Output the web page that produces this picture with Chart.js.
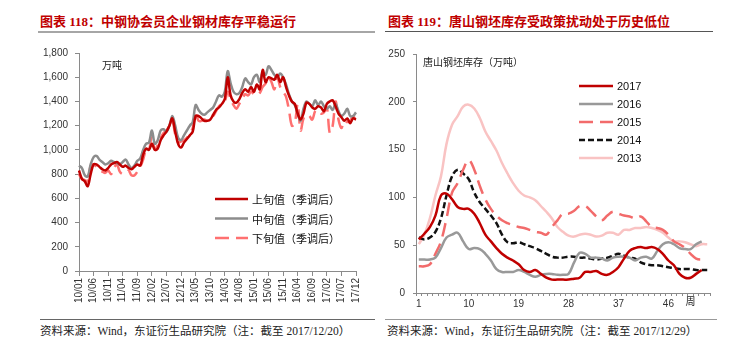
<!DOCTYPE html>
<html><head><meta charset="utf-8">
<script src="https://cdn.jsdelivr.net/npm/chart.js@4/dist/chart.umd.min.js"></script>
<style>
body{margin:0;width:751px;height:356px;background:#fff;position:relative;overflow:hidden;font-family:"Liberation Serif","Noto Sans CJK SC",serif;}
.title{position:absolute;top:11px;font-size:13px;font-weight:bold;color:#C00000;white-space:nowrap;font-family:"Liberation Serif","Noto Sans CJK SC",serif;}
.rule{position:absolute;}
.src{position:absolute;top:322px;font-size:11.5px;color:#222;white-space:nowrap;}
#w1{position:absolute;left:30px;top:40px;width:340px;height:275px;}
#w2{position:absolute;left:380px;top:40px;width:340px;height:275px;}
</style></head>
<body>
<div class="title" style="left:40px;">图表 118：中钢协会员企业钢材库存平稳运行</div>
<div class="title" style="left:388px;">图表 119：唐山钢坯库存受政策扰动处于历史低位</div>
<div class="rule" style="left:38px;top:31px;width:337px;height:2px;background:#a6a6a6;"></div>
<div class="rule" style="left:385px;top:31px;width:328px;height:1px;background:#555;"></div>
<div id="w1"><canvas id="c1"></canvas></div>
<div id="w2"><canvas id="c2"></canvas></div>
<div class="rule" style="left:40px;top:319px;width:335px;height:1px;background:#666;"></div>
<div class="rule" style="left:385px;top:319px;width:332px;height:1px;background:#999;"></div>
<div class="src" style="left:40px;">资料来源：Wind，东证衍生品研究院（注：截至 2017/12/20）</div>
<div class="src" style="left:387px;">资料来源：Wind，东证衍生品研究院（注：截至 2017/12/29）</div>
<script>
// ---------- Left chart data (monthly, 2010/01 - 2017/12) ----------
const monthLabels = [];
for (let y = 10; y <= 17; y++) for (let m = 1; m <= 12; m++) monthLabels.push(y + '/' + (m < 10 ? '0' + m : m));
const shangxun = [830,760,740,700,800,880,880,860,840,830,850,880,890,900,880,860,870,850,840,860,880,870,960,1010,
  1000,1050,1000,1010,1080,1120,1150,1200,1260,1150,1050,1020,1060,1090,1120,1150,1280,1280,1260,1240,1240,1250,1290,1330,
  1350,1380,1420,1600,1450,1400,1390,1420,1470,1500,1480,1520,1480,1540,1500,1660,1560,1600,1590,1580,1620,1560,1600,1520,
  1450,1400,1380,1300,1250,1300,1390,1380,1350,1340,1360,1350,1320,1380,1400,1410,1360,1300,1270,1240,1260,1220,1260,1250];
const zhongxun = [870,850,790,780,880,940,950,920,900,880,890,910,900,890,880,900,920,880,850,870,910,930,1000,1050,
  1060,1160,1050,1080,1160,1170,1150,1200,1280,1200,1100,1080,1120,1160,1200,1230,1370,1330,1300,1290,1310,1330,1350,1400,
  1450,1440,1480,1650,1550,1480,1460,1470,1520,1590,1560,1540,1600,1620,1560,1640,1620,1690,1660,1620,1600,1630,1600,1540,
  1460,1400,1370,1300,1240,1340,1400,1380,1360,1410,1370,1400,1360,1340,1360,1330,1380,1320,1280,1300,1340,1280,1280,1310];
const xiaxun = [800,760,750,740,870,880,860,830,820,810,830,800,850,880,820,800,810,830,790,790,820,860,920,1000,
  1000,1120,1000,1040,1100,1140,1160,1200,1240,1130,1060,1070,1080,1100,1140,1180,1300,1240,1240,1250,1240,1270,1280,1320,
  1360,1380,1400,1480,1420,1370,1340,1380,1420,1460,1450,1480,1460,1450,1470,1520,1550,1600,1560,1500,1600,1520,1480,1440,
  1330,1200,1220,1380,1160,1260,1290,1280,1250,1320,1330,1300,1310,1350,1140,1200,1400,1250,1180,1240,1230,1240,1280,1240];
const leftSeriesNames = ['上旬值（季调后）','中旬值（季调后）','下旬值（季调后）'];

// ---------- Right chart data (weekly) ----------
const weekLabels = [];
for (let w = 1; w <= 53; w++) weekLabels.push(String(w));
const y2017 = [56,62,69,81,102,104,98,90,88,88,83,73,61,54,47,41,37,34,30,24,22,24,20,16,14,14,14,14,15,16,22,22,23,20,19,22,27,36,44,47,48,47,48,46,41,34,29,20,16,16,20,24];
const y2016 = [35,35,35,37,47,58,61,63,54,46,47,46,41,34,25,22,22,22,24,22,19,17,19,20,20,19,19,20,32,42,41,37,37,36,34,37,38,38,37,34,37,38,36,44,51,53,51,47,46,46,51,54];
const y2015 = [28,28,30,41,54,78,105,115,129,139,129,112,98,88,81,76,73,71,69,68,66,64,63,61,69,76,83,83,86,91,91,86,80,76,81,85,83,81,80,78,80,75,69,68,66,61,54,51,47,41,36,35,35];
const y2014 = [58,56,58,64,78,102,122,129,125,119,105,95,88,81,73,61,53,52,53,51,49,47,44,41,38,37,37,38,38,37,37,36,35,36,37,39,41,39,37,36,32,30,29,29,28,27,26,25,25,25,24,24,24];
const y2013 = [51,61,78,102,122,156,176,185,195,197,193,183,169,159,149,136,125,115,107,102,100,97,91,85,78,69,64,60,59,61,62,61,59,60,63,63,61,66,66,68,68,69,68,66,63,58,54,54,53,51,49,51,51];
const rightSeriesNames = ['2017','2016','2015','2014','2013'];
const leftYTicks = {min:0, max:1800, step:200};
const rightYTicks = {min:0, max:250, step:50};

const tickFont = {family:'"Liberation Sans", Arial, sans-serif', size:10};
const axisColor = '#8a8a8a';

const inLegend = {
  id:'inLegend',
  afterDraw(chart, args, opts){
    const ctx = chart.ctx;
    ctx.save();
    chart.data.datasets.forEach((ds,i)=>{
      const y = opts.y + i*opts.gap;
      ctx.beginPath();
      ctx.strokeStyle = ds.borderColor;
      ctx.lineWidth = ds.borderWidth;
      ctx.setLineDash(ds.borderDash || []);
      ctx.moveTo(opts.x, y); ctx.lineTo(opts.x + opts.len, y); ctx.stroke();
      ctx.setLineDash([]);
      ctx.fillStyle = '#111';
      ctx.font = opts.font;
      ctx.textBaseline = 'middle';
      ctx.textAlign = 'left';
      ctx.fillText(ds.label, opts.x + opts.len + 4, y + 1);
    });
    if (opts.unit) {
      ctx.font = opts.unitFont;
      ctx.fillStyle = '#222';
      ctx.fillText(opts.unit, opts.ux, opts.uy);
    }
    if (opts.zhou) {
      const xs = chart.scales.x;
      ctx.font = '10px "Noto Sans CJK SC"';
      ctx.fillStyle = '#222';
      ctx.textAlign = 'center';
      ctx.fillText('周', xs.getPixelForValue(49), chart.chartArea.bottom + 8);
    }
    ctx.restore();
  }
};

new Chart(document.getElementById('c1'), {
  type:'line',
  data:{
    labels: monthLabels,
    datasets:[
      {label:leftSeriesNames[0], data:shangxun, borderColor:'#C00000', borderWidth:2.5, pointRadius:0, tension:0.35},
      {label:leftSeriesNames[1], data:zhongxun, borderColor:'#8c8c8c', borderWidth:2.5, pointRadius:0, tension:0.35},
      {label:leftSeriesNames[2], data:xiaxun, borderColor:'#ff7070', borderWidth:2.5, borderDash:[14,7], pointRadius:0, tension:0.35}
    ]
  },
  options:{
    responsive:true, maintainAspectRatio:false, animation:false,
    layout:{padding:{top:9, right:9, left:0, bottom:0}},
    plugins:{legend:{display:false}, tooltip:{enabled:false},
      inLegend:{x:185, y:159, gap:19.5, len:33, font:'11px "Noto Sans CJK SC"', unit:'万吨', unitFont:'10px "Noto Sans CJK SC"', ux:72, uy:25}},
    scales:{
      x:{type:'category', offset:false,
        grid:{drawOnChartArea:false, tickLength:5, color:(c)=> (c.index%5===0 ? axisColor : 'transparent')},
        border:{color:axisColor},
        ticks:{autoSkip:false, minRotation:90, maxRotation:90, font:tickFont, color:'#333', padding:2,
          callback:(v,i)=> (i%5===0 ? monthLabels[i] : '')},
        afterFit:(s)=>{s.height=44;}
      },
      y:{min:leftYTicks.min, max:leftYTicks.max,
        grid:{drawOnChartArea:false, tickLength:4, color:axisColor},
        border:{color:axisColor},
        ticks:{stepSize:leftYTicks.step, font:tickFont, color:'#333', padding:7,
          callback:(v)=> v.toLocaleString('en-US')},
        afterFit:(s)=>{s.width=49;}
      }
    }
  },
  plugins:[inLegend]
});

new Chart(document.getElementById('c2'), {
  type:'line',
  data:{
    labels: weekLabels,
    datasets:[
      {label:rightSeriesNames[0], data:y2017, borderColor:'#C00000', borderWidth:2.5, pointRadius:0, tension:0.4},
      {label:rightSeriesNames[1], data:y2016, borderColor:'#999999', borderWidth:2.5, pointRadius:0, tension:0.4},
      {label:rightSeriesNames[2], data:y2015, borderColor:'#f26b6b', borderWidth:2.5, borderDash:[14,7], pointRadius:0, tension:0.4},
      {label:rightSeriesNames[3], data:y2014, borderColor:'#111111', borderWidth:2.5, borderDash:[6,3], pointRadius:0, tension:0.4},
      {label:rightSeriesNames[4], data:y2013, borderColor:'#f9c3c3', borderWidth:2.5, pointRadius:0, tension:0.4}
    ]
  },
  options:{
    responsive:true, maintainAspectRatio:false, animation:false,
    layout:{padding:{top:7, right:10, left:0, bottom:0}},
    plugins:{legend:{display:false}, tooltip:{enabled:false},
      inLegend:{x:199, y:46, gap:18, len:34, font:'11px "Liberation Sans", Arial, sans-serif', unit:'唐山钢坯库存（万吨）', unitFont:'10px "Noto Sans CJK SC"', ux:43, uy:22, zhou:true}},
    scales:{
      x:{type:'category', offset:true,
        grid:{drawOnChartArea:false, tickLength:3, color:axisColor, offset:true},
        border:{color:axisColor},
        ticks:{autoSkip:false, maxRotation:0, minRotation:0, font:tickFont, color:'#333', padding:2,
          callback:(v,i)=> (i%9===0 ? weekLabels[i] : '')},
        afterFit:(s)=>{s.height=22;}
      },
      y:{min:rightYTicks.min, max:rightYTicks.max,
        grid:{drawOnChartArea:false, tickLength:3, color:axisColor},
        border:{color:axisColor},
        ticks:{stepSize:rightYTicks.step, font:tickFont, color:'#333', padding:8},
        afterFit:(s)=>{s.width=36;}
      }
    }
  },
  plugins:[inLegend]
});
</script>
</body></html>
